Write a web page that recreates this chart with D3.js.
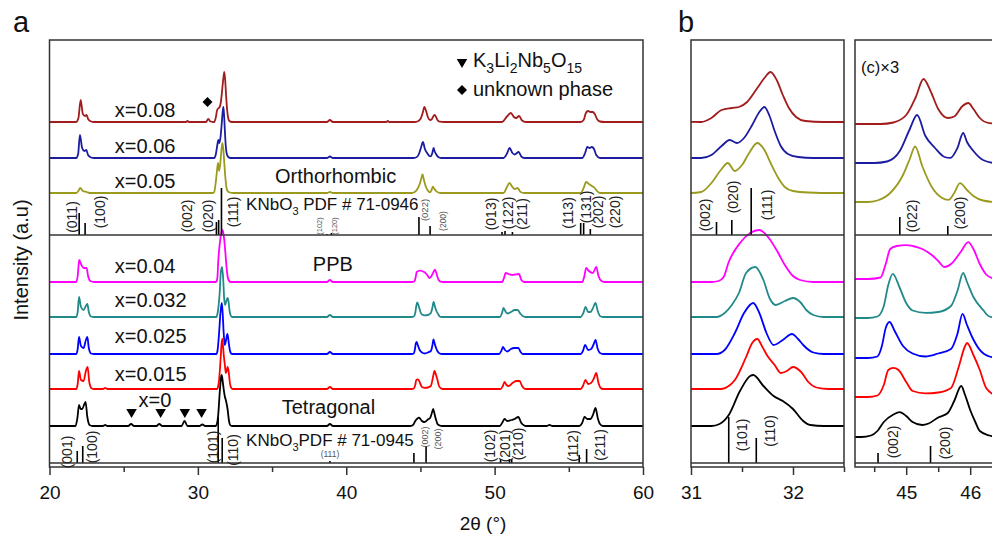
<!DOCTYPE html>
<html>
<head>
<meta charset="utf-8">
<script src="https://cdn.jsdelivr.net/npm/d3@7"></script>
<style>
  body { margin: 0; background: #fff; }
  svg { font-family: Arial, "Liberation Sans", sans-serif; }
</style>
</head>
<body>
<svg id="chart" width="992" height="539"></svg>
<script>
// sample names, colours
const samples = ["x=0.08", "x=0.06", "x=0.05", "x=0.04", "x=0.032", "x=0.025", "x=0.015", "x=0"];
const colors = ["#a11c1c", "#1c1ca0", "#9a9a1e", "#ff00ff", "#22898b", "#0000ff", "#ff0000", "#000000"];

// vertical offset of each pattern (a.u.), panels a/b and panel c
const offsetAB = [345, 309, 274, 185, 150, 113, 78, 41];
const offsetC = [343, 304, 265, 188, 149, 109, 70, 30];

// patterns: [2theta, intensity]
const s008 = [[20,0],[21.8,0],[21.95,4],[22.1,22],[22.25,8],[22.4,6],[22.5,7],[22.6,3],[22.8,0.5],[23,0],
  [29.2,0],[29.3,1],[29.4,0],[30.55,0],[30.7,3],[30.85,0.5],[31.1,0],
  [31.2,4],[31.3,12],[31.4,14],[31.47,15],[31.55,20],[31.65,34],[31.72,44],[31.78,50],[31.84,42],[31.9,27],[31.96,14],[32.03,5],[32.12,1],[32.3,0],
  [38.7,0],[38.9,2],[39.1,0],[42.7,0],[42.8,1],[42.9,0],
  [44.6,0],[44.8,0.5],[45.0,3],[45.15,9],[45.27,15],[45.38,11],[45.5,5],[45.65,2],[45.75,2.5],[45.88,6],[45.97,7],[46.05,5],[46.15,2],[46.3,0.3],[46.6,0],
  [50.5,0],[50.8,5],[51.1,9],[51.3,5],[51.45,4],[51.65,6],[51.85,1.5],[52.1,0],
  [55.8,0],[56.0,2],[56.15,9],[56.3,11],[56.45,10],[56.6,10],[56.75,8],[56.9,3],[57.1,0.5],[57.4,0],[60,0]];
const s006 = [[20,0],[21.8,0],[21.93,4],[22.05,23],[22.2,10],[22.35,7],[22.48,8],[22.6,3],[22.8,0.5],[23,0],
  [31.1,0],[31.2,3],[31.3,12],[31.38,18],[31.45,15],[31.52,20],[31.6,33],[31.67,46],[31.72,51],[31.77,42],[31.82,27],[31.88,12],[31.95,4],[32.05,1],[32.2,0],
  [38.7,0],[38.9,1.5],[39.1,0],
  [44.5,0],[44.7,0.5],[44.9,4],[45.05,11],[45.17,16],[45.3,9],[45.45,5],[45.6,2],[45.69,1.7],[45.8,5],[45.89,10],[45.95,7],[46.05,4],[46.2,1],[46.4,0],
  [50.6,0],[50.85,5],[51.01,10],[51.2,5],[51.35,3.5],[51.62,6],[51.8,1.5],[52.0,0],
  [55.9,0],[56.1,5],[56.25,11],[56.4,10],[56.55,11],[56.7,9],[56.85,3],[57.1,0],[60,0]];
const s005 = [[20,0],[21.8,0],[21.95,2],[22.07,5],[22.25,2],[22.5,1],[22.7,0],
  [31.0,0],[31.1,1],[31.2,10],[31.3,24],[31.36,30],[31.43,22],[31.5,28],[31.57,40],[31.65,50],[31.72,43],[31.78,30],[31.85,16],[31.92,6],[32.0,2],[32.15,0.5],[32.4,0],
  [38.7,0],[38.9,1],[39.1,0],
  [44.4,0],[44.55,0.5],[44.75,3],[44.95,9],[45.05,14],[45.14,18.5],[45.25,12],[45.4,5],[45.55,1.5],[45.66,0.7],[45.75,3],[45.84,6.3],[45.95,4],[46.05,2],[46.2,0.5],[46.4,0],
  [50.6,0],[50.8,5],[51.0,10],[51.2,6],[51.35,4],[51.55,5],[51.75,1],[52,0],
  [55.8,0],[56.0,5],[56.17,11],[56.35,9],[56.55,7],[56.75,5],[56.9,2],[57.1,0],[60,0]];
const s004 = [[20,0],[21.8,0],[21.9,6],[22.0,22],[22.15,17],[22.3,14],[22.5,14],[22.6,6],[22.75,1],[23,0],
  [31.2,0],[31.27,1],[31.32,5],[31.37,20],[31.48,39],[31.58,49],[31.67,52],[31.77,43],[31.85,30],[31.92,17],[32.0,6],[32.07,2],[32.2,0],
  [38.7,0],[38.9,2],[39.1,0],
  [44.4,0],[44.6,0.5],[44.68,5],[44.75,10],[44.85,11],[45.0,11.3],[45.1,11],[45.25,10],[45.4,8],[45.5,6],[45.6,4],[45.7,5],[45.85,9],[45.97,12.3],[46.05,10],[46.15,5],[46.25,1.5],[46.35,0.3],[46.5,0],
  [50.5,0],[50.65,5],[50.74,9],[50.95,8],[51.19,7],[51.4,7.5],[51.64,8],[51.8,2],[52.0,0],
  [55.9,0],[56.05,6],[56.17,14],[56.35,11],[56.62,9],[56.85,15],[57.0,6],[57.2,1],[57.4,0],[60,0]];
const s0032 = [[20,0],[21.8,0],[21.9,5],[21.99,20],[22.12,10],[22.3,7],[22.45,11],[22.55,13],[22.65,5],[22.8,0.5],[23,0],
  [31.25,0],[31.33,4],[31.4,12],[31.47,24],[31.54,44],[31.63,50],[31.71,37],[31.77,19],[31.83,12],[31.92,16],[32.0,19],[32.07,15],[32.13,7],[32.2,2],[32.3,0],
  [38.7,0],[38.9,2],[39.1,0],
  [44.4,0],[44.55,0.5],[44.65,4],[44.72,11],[44.79,14.7],[44.9,10],[45.0,5],[45.1,2.5],[45.3,1.7],[45.5,2],[45.7,4],[45.8,9],[45.89,15],[45.95,12],[46.05,7],[46.2,2.7],[46.3,0.5],[46.45,0],
  [50.35,0],[50.5,4],[50.6,9],[50.75,5],[50.9,3.5],[51.1,5],[51.35,7],[51.55,7],[51.75,3],[51.95,0.5],[52.1,0],
  [55.8,0],[55.98,4],[56.13,10],[56.3,5],[56.45,5],[56.6,8],[56.8,14],[56.95,6],[57.1,1],[57.3,0],[60,0]];
const s0025 = [[20,0],[21.8,0],[21.9,5],[21.99,17],[22.12,8],[22.3,6],[22.45,14],[22.55,17],[22.65,6],[22.8,0.5],[23,0],
  [31.25,0],[31.33,4],[31.43,21],[31.52,41],[31.61,51],[31.67,41],[31.74,21],[31.81,9],[31.9,14],[31.99,20],[32.05,15],[32.1,9],[32.2,1.5],[32.3,0],
  [38.7,0],[38.9,2],[39.1,0],
  [44.4,0],[44.55,0.5],[44.62,4],[44.68,10],[44.74,12],[44.82,9],[44.95,4],[45.1,1.5],[45.3,0.5],[45.5,1.5],[45.7,3],[45.8,8],[45.88,14.7],[45.95,11],[46.03,7],[46.15,2.7],[46.3,0.5],[46.45,0],
  [50.3,0],[50.45,3],[50.56,7],[50.7,4],[50.85,2.5],[51.1,5],[51.3,6],[51.6,6],[51.75,2],[51.9,0],
  [55.8,0],[55.95,3],[56.1,9],[56.3,4],[56.5,5],[56.68,10],[56.8,14],[56.95,5],[57.1,1],[57.3,0],[60,0]];
const s0015 = [[20,0],[21.8,0],[21.9,5],[21.99,18],[22.12,9],[22.3,8],[22.45,18],[22.57,22],[22.68,7],[22.85,0.5],[23,0],[23.6,0],[23.75,1],[23.9,0],
  [31.3,0],[31.37,3],[31.43,9],[31.54,32],[31.6,46],[31.65,50],[31.7,42],[31.75,33],[31.82,24],[31.88,16],[31.94,18],[32.0,22],[32.08,17],[32.15,7],[32.23,1.5],[32.35,0],
  [38.7,0],[38.9,2],[39.1,0],
  [44.4,0],[44.55,0.5],[44.65,4],[44.72,9],[44.8,9.7],[44.88,9],[45.0,5],[45.1,2],[45.3,1.2],[45.5,1.5],[45.7,3],[45.82,10],[45.92,17],[45.95,18],[46.05,14],[46.15,9],[46.25,3],[46.4,0.5],[46.5,0],
  [50.4,0],[50.55,3],[50.67,7],[50.8,4],[50.95,3],[51.2,6],[51.45,8],[51.68,8],[51.85,3],[52.0,0.5],[52.1,0],
  [55.8,0],[55.95,3],[56.13,9],[56.3,5],[56.5,6],[56.7,11],[56.85,16],[57.0,6],[57.15,1],[57.3,0],[60,0]];
const s000 = [[20,0],[21.75,0],[21.88,8],[21.99,21],[22.1,17],[22.2,17],[22.35,22],[22.43,24],[22.55,9],[22.7,1],[22.9,0],[23.6,0],[23.75,1],[23.9,0],
  [25.3,0],[25.5,2],[25.7,0],[27.2,0],[27.4,2],[27.6,0],[28.9,0],[29.1,5],[29.3,0],[30.1,0],[30.3,1.5],[30.5,0],
  [31.2,0],[31.28,2],[31.37,11],[31.48,35],[31.58,50],[31.61,51],[31.71,40],[31.81,30],[31.9,25],[32.0,17],[32.1,5],[32.17,1],[32.3,0],
  [38.7,0],[38.9,2],[39.1,0],
  [44.3,0],[44.45,0.5],[44.55,2],[44.65,5],[44.8,7.5],[44.9,8.3],[45.0,7],[45.1,5],[45.25,4],[45.35,4.5],[45.5,6.5],[45.65,8],[45.75,12],[45.86,17],[45.92,14],[46.0,9],[46.08,5],[46.15,2],[46.3,0.5],[46.45,0],
  [50.35,0],[50.5,3],[50.67,7],[50.85,5],[51.12,6],[51.35,7],[51.6,9],[51.8,3],[52.0,0.5],[52.1,0],[53.5,0],[53.7,1],[53.9,0],
  [55.7,0],[55.9,3],[56.06,9],[56.25,7],[56.45,7],[56.65,12],[56.8,18],[56.95,8],[57.1,2],[57.3,0],[60,0]];
const patterns = [s008, s006, s005, s004, s0032, s0025, s0015, s000];

// reference cards: KNbO3 PDF 71-0946 (orthorhombic) and 71-0945 (tetragonal)
const orthoPos = [22.0, 22.4, 31.25, 31.4, 31.59, 38.7, 39.0, 44.9, 45.65, 50.5, 50.7, 51.2, 55.8, 56.0, 56.45];
const orthoInt = [22, 12, 13, 15, 47, 1, 2, 18, 9, 3, 4, 3, 12, 12, 6];
const tetraPos = [21.87, 22.24, 31.37, 31.64, 38.9, 44.56, 45.38, 50.4, 51.0, 51.15, 55.7, 56.2];
const tetraInt = [12, 17, 46, 25, 2, 10, 17, 4, 4, 4, 8, 14];

// impurity peaks on x=0 and x=0.08
const klnPeaks = [25.53, 27.49, 29.12, 30.25];
const unknownPeaks = [30.65];

const xTicks = [20, 30, 40, 50, 60];
const xMinor = [25, 35, 45, 55];
const bTicks = [31, 32];
const bMinor = [31.5, 32.5];
const cTicks = [45, 46];
const cMinor = [44.5, 45.5];

const svg = d3.select("#chart");
const y = d3.scaleLinear().domain([0, 427]).range([467, 40]);
const xA = d3.scaleLinear().domain([20, 60]).range([49.5, 643]);
const xB = d3.scaleLinear().domain([31, 32.5]).range([691, 844]);
const xC = d3.scaleLinear().domain([44.2, 46.5]).range([855, 1002.2]);

const ORTHO_BASE = 232, TETRA_BASE = 4;
const frameCol = "#333";

function panel(id, x, offsets, mult) {
    const [x0, x1] = x.range();
    const g = svg.append("g").attr("id", id);

    g.append("clipPath").attr("id", "clip-" + id)
        .append("rect").attr("x", x0).attr("y", y(427)).attr("width", x1 - x0).attr("height", y(0) - y(427));

    const line = d3.line()
        .x(d => x(d[0]))
        .curve(d3.curveMonotoneX);

    g.append("g").attr("clip-path", `url(#clip-${id})`)
        .selectAll("path")
        .data(patterns)
        .join("path")
        .attr("fill", "none")
        .attr("stroke", (d, i) => colors[i])
        .attr("stroke-width", 1.8)
        .attr("stroke-linejoin", "round")
        .attr("d", (d, i) => line.y(p => y(offsets[i] + p[1] * mult))(d));

    // reference sticks
    const refs = g.append("g").attr("clip-path", `url(#clip-${id})`).attr("stroke", "#000").attr("stroke-width", 1.6);
    refs.selectAll(".o").data(orthoPos).join("line").attr("class", "o")
        .attr("x1", d => x(d)).attr("x2", d => x(d))
        .attr("y1", y(ORTHO_BASE)).attr("y2", (d, i) => y(ORTHO_BASE + orthoInt[i]));
    refs.selectAll(".t").data(tetraPos).join("line").attr("class", "t")
        .attr("x1", d => x(d)).attr("x2", d => x(d))
        .attr("y1", y(TETRA_BASE)).attr("y2", (d, i) => y(TETRA_BASE + tetraInt[i]));

    // frame + separators
    g.append("rect").attr("x", x0).attr("y", y(427)).attr("width", x1 - x0).attr("height", y(0) - y(427))
        .attr("fill", "none").attr("stroke", frameCol).attr("stroke-width", 1.5);
    [ORTHO_BASE, TETRA_BASE].forEach(v => {
        g.append("line").attr("x1", x0).attr("x2", x1).attr("y1", y(v)).attr("y2", y(v))
            .attr("stroke", frameCol).attr("stroke-width", 1.3);
    });
    return g;
}

function ticks(g, x, major, minor) {
    const ax = g.append("g").attr("transform", `translate(0,${y(0)})`)
        .call(d3.axisBottom(x).tickValues(major).tickSize(8).tickPadding(11).tickFormat(d3.format("d")));
    ax.select(".domain").remove();
    ax.selectAll("line").attr("stroke", frameCol).attr("stroke-width", 1.5);
    ax.selectAll("text").attr("font-size", 19).attr("fill", "#111").attr("font-family", "Arial, 'Liberation Sans', sans-serif");
    const mi = g.append("g").attr("transform", `translate(0,${y(0)})`)
        .call(d3.axisBottom(x).tickValues(minor).tickSize(5).tickFormat(""));
    mi.select(".domain").remove();
    mi.selectAll("line").attr("stroke", frameCol).attr("stroke-width", 1.5);
}

function vlabel(g, px, py, txt, size, col) {
    g.append("text")
        .attr("transform", `translate(${px},${py}) rotate(-90)`)
        .attr("text-anchor", "middle")
        .attr("dominant-baseline", "central")
        .attr("font-size", size)
        .attr("fill", col || "#222")
        .text(txt);
}

// ---------- panel a ----------
const ga = panel("pa", xA, offsetAB, 1);
ticks(ga, xA, xTicks, xMinor);

const labelDy = [5, 5, 5, 9, 10, 11, 8, 19];
ga.selectAll(".slab").data(samples).join("text").attr("class", "slab")
    .attr("x", (d, i) => i === 7 ? xA(26) : xA(24.4))
    .attr("y", (d, i) => y(offsetAB[i] + labelDy[i]))
    .attr("font-size", 20).attr("fill", "#111")
    .text(d => d);

[["Orthorhombic", 35.2, 284], ["PPB", 37.75, 196], ["Tetragonal", 35.65, 53]].forEach(([t, th, v]) => {
    ga.append("text").attr("x", xA(th)).attr("y", y(v)).attr("font-size", 20).attr("fill", "#111").text(t);
});

function pdfText(g, px, py, rest) {
    const t = g.append("text").attr("x", px).attr("y", py).attr("font-size", 17).attr("fill", "#111");
    t.append("tspan").text("KNbO");
    t.append("tspan").attr("font-size", 11).attr("dy", 5).text("3");
    t.append("tspan").attr("dy", -5).text(rest);
}
pdfText(ga, xA(33.25), y(257), " PDF # 71-0946");
pdfText(ga, xA(33.25), y(21), "PDF # 71-0945");

const orthoLabels = [["(011)",21.5,217,14],["(100)",23.4,212,14],["(002)",29.24,216,14],["(020)",30.69,216,14],["(111)",32.38,212,14],
    ["(102)",38.2,226,7.5],["(120)",39.2,226,7.5],["(022)",45.3,210,9.5],["(200)",46.52,221,8.5],
    ["(013)",49.78,214,14],["(122)",50.9,213,14],["(211)",51.87,214,14],["(113)",54.94,213,14],["(131)",56.17,207,14],["(202)",56.96,212,14],["(220)",58.13,212,14]];
orthoLabels.forEach(([t, th, py, s]) => vlabel(ga, xA(th), py, t, s, s < 10 ? "#555" : "#222"));

const tetraLabels = [["(001)",21.16,452,14],["(100)",22.84,447,14],["(101)",31.03,447,14],["(110)",32.38,450,14],
    ["(002)",45.29,437,9],["(200)",46.18,439,9],["(102)",49.66,446,14],["(201)",50.67,446,14],["(210)",51.57,444,14],["(112)",55.27,446,14],["(211)",57.12,445,14]];
tetraLabels.forEach(([t, th, py, s]) => vlabel(ga, xA(th), py, t, s, s < 10 ? "#555" : "#222"));
ga.append("text").attr("x", xA(38.9)).attr("y", 457).attr("text-anchor", "middle")
    .attr("font-size", 8.5).attr("fill", "#555").text("(111)");

// impurity markers
const tri = d3.symbol(d3.symbolTriangle, 48);
const dia = d3.symbol(d3.symbolSquare, 50);
ga.selectAll(".kln").data(klnPeaks).join("path").attr("class", "kln")
    .attr("d", tri).attr("fill", "#000")
    .attr("transform", d => `translate(${xA(d)},${y(offsetAB[7] + 14)}) rotate(180)`);
ga.selectAll(".unk").data(unknownPeaks).join("path").attr("class", "unk")
    .attr("d", dia).attr("fill", "#000")
    .attr("transform", d => `translate(${xA(d)},${y(offsetAB[0] + 20)}) rotate(45)`);

// legend
ga.append("path").attr("d", tri).attr("fill", "#000").attr("transform", "translate(462,62) rotate(180)");
ga.append("path").attr("d", dia).attr("fill", "#000").attr("transform", "translate(462,90) rotate(45)");
const lg = ga.append("text").attr("x", 473).attr("y", 67).attr("font-size", 20).attr("fill", "#111");
[["K", 0], ["3", 1], ["Li", 0], ["2", 1], ["Nb", 0], ["5", 1], ["O", 0], ["15", 1]].forEach(([t, sub], i, arr) => {
    const prevSub = i > 0 ? arr[i - 1][1] : 0;
    lg.append("tspan").attr("font-size", sub ? 14 : 20).attr("dy", sub ? 6 : (prevSub ? -6 : 0)).text(t);
});
ga.append("text").attr("x", 473).attr("y", 96).attr("font-size", 20).attr("fill", "#111").text("unknown phase");

// ---------- panel b ----------
const gb = panel("pb", xB, offsetAB, 1);
ticks(gb, xB, bTicks, bMinor);
[["(002)",31.137,215],["(020)",31.41,197],["(111)",31.745,205]].forEach(([t, th, py]) => vlabel(gb, xB(th), py, t, 14));
[["(101)",31.5,435],["(110)",31.775,431]].forEach(([t, th, py]) => vlabel(gb, xB(th), py, t, 14));

// ---------- panel c (x3) ----------
const gc = panel("pc", xC, offsetC, 3);
ticks(gc, xC, cTicks, cMinor);
[["(022)",45.09,216],["(200)",45.84,213]].forEach(([t, th, py]) => vlabel(gc, xC(th), py, t, 14));
[["(002)",44.8,442],["(200)",45.61,443]].forEach(([t, th, py]) => vlabel(gc, xC(th), py, t, 14));
gc.append("text").attr("x", 861).attr("y", 73).attr("font-size", 16.5).attr("fill", "#111").text("(c)\u00d73");

// ---------- titles ----------
svg.append("text").attr("x", 13).attr("y", 32).attr("font-size", 29).attr("fill", "#111").text("a");
svg.append("text").attr("x", 678).attr("y", 32).attr("font-size", 29).attr("fill", "#111").text("b");
svg.append("text").attr("transform", "translate(28,260) rotate(-90)").attr("text-anchor", "middle")
    .attr("font-size", 20).attr("fill", "#111").text("Intensity (a.u)");
svg.append("text").attr("x", 483).attr("y", 530).attr("text-anchor", "middle")
    .attr("font-size", 19).attr("fill", "#111").text("2\u03b8 (\u00b0)");
</script>
</body>
</html>
